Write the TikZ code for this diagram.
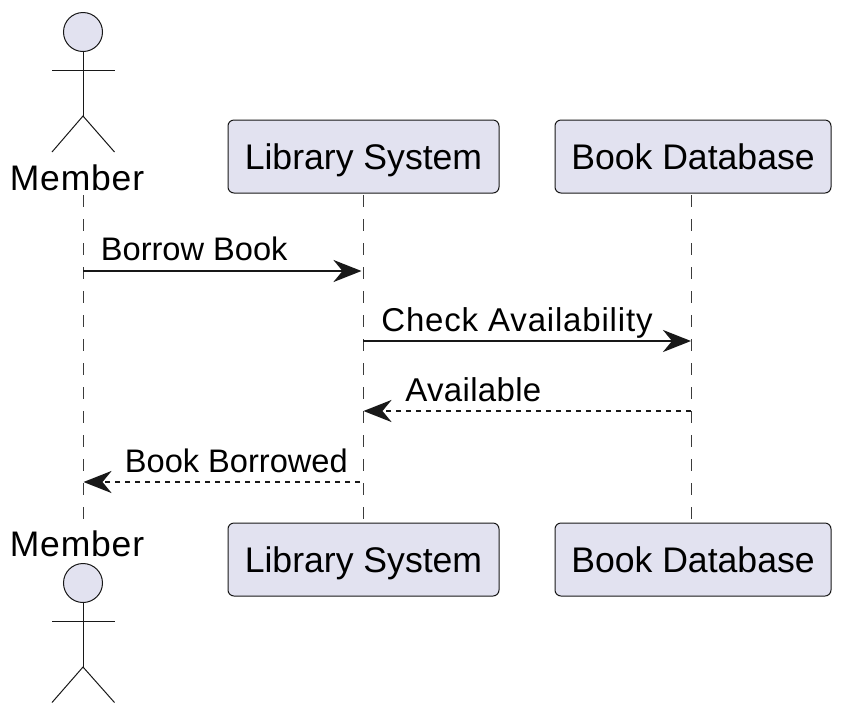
\documentclass[tikz,border=0pt]{standalone}
\usepackage{fontspec}
\setmainfont{Liberation Sans}
\usetikzlibrary{arrows.meta}
\definecolor{partfill}{HTML}{E2E2F0}
\definecolor{partline}{HTML}{181818}
\tikzset{
  lifeline/.style={partline!85, line width=0.5pt, dash pattern=on 6pt off 6pt},
  figure/.style={partline, line width=0.5pt},
  figurehead/.style={circle, draw=partline, fill=partfill, line width=0.5pt, inner sep=0pt, minimum size=19.5pt},
  partbox/.style={draw=partline, fill=partfill, rounded corners=3pt, line width=0.5pt, inner sep=0pt,
    minimum height=36.5pt, text height=12.6pt, text depth=0pt, font=\fontsize{17.8}{20}\selectfont},
  partname/.style={inner sep=0pt, anchor=base, font=\fontsize{17.75}{20}\selectfont\addfontfeature{LetterSpace=2.3}},
  msg/.style={partline, line width=1.4pt, -{Stealth[length=14pt, width=11pt, inset=4.5pt]}},
  reply/.style={msg, dash pattern=on 2.5pt off 2.5pt},
  msgtext/.style={inner sep=0pt, anchor=base west, font=\fontsize{16.3}{20}\selectfont}
}
\begin{document}
\begin{tikzpicture}[x=0.5pt, y=-0.5pt]
\useasboundingbox (0,0) rectangle (842,714);

\node [partname] (membertop) at (77,190) {Member};
\node [partbox, minimum width=135.5pt] (systop) at (363.5,156.5) {Library System};
\node [partbox, minimum width=138pt] (dbtop) at (693,156.5) {Book Database};

\node [partname] (memberbottom) at (77,556) {Member};
\node [partbox, minimum width=135.5pt] (sysbottom) at (363.5,559.5) {Library System};
\node [partbox, minimum width=138pt] (dbbottom) at (693,559.5) {Book Database};

\coordinate (mtop) at (83,195);
\coordinate (mbot) at (83,520);
\coordinate (stop) at (363,195);
\coordinate (sbot) at (363,520);
\coordinate (dtop) at (691,195);
\coordinate (dbot) at (691,520);
\draw [lifeline] (mtop) -- (mbot);
\draw [lifeline] (stop) -- (sbot);
\draw [lifeline] (dtop) -- (dbot);

\coordinate (m1) at (83,271);
\coordinate (s1) at (361.5,271);
\coordinate (s2) at (363,341);
\coordinate (d2) at (691,341);
\coordinate (d3) at (691,411);
\coordinate (s3) at (363.5,411);
\coordinate (s4) at (360,482);
\coordinate (m4) at (83.5,482);
\draw [msg] (m1) -- (s1);
\draw [msg] (s2) -- (d2);
\draw [reply] (d3) -- (s3);
\draw [reply] (s4) -- (m4);

\node [msgtext] (borrow) at (100.5,260) {Borrow Book};
\node [msgtext, font=\fontsize{16.5}{20}\selectfont\addfontfeature{LetterSpace=2.5}] (check) at (381,331) {Check Availability};
\node [msgtext, font=\fontsize{16.5}{20}\selectfont\addfontfeature{LetterSpace=1}] (avail) at (405,401) {Available};
\node [msgtext] (borrowed) at (124.5,472) {Book Borrowed};

\node [figurehead] (headtop) at (83,32) {};
\coordinate (armltop) at (52,70.5);
\coordinate (armrtop) at (114.5,70.5);
\coordinate (hiptop) at (83,116);
\coordinate (legltop) at (52,152);
\coordinate (legrtop) at (114.5,152);
\draw [figure] (headtop) -- (hiptop);
\draw [figure] (armltop) -- (armrtop);
\draw [figure] (legltop) -- (hiptop) -- (legrtop);

\node [figurehead] (headbottom) at (83,583) {};
\coordinate (armlbottom) at (52,621);
\coordinate (armrbottom) at (114.5,621);
\coordinate (hipbottom) at (83,667);
\coordinate (leglbottom) at (52,702.5);
\coordinate (legrbottom) at (114.5,702.5);
\draw [figure] (headbottom) -- (hipbottom);
\draw [figure] (armlbottom) -- (armrbottom);
\draw [figure] (leglbottom) -- (hipbottom) -- (legrbottom);
\end{tikzpicture}
\end{document}
